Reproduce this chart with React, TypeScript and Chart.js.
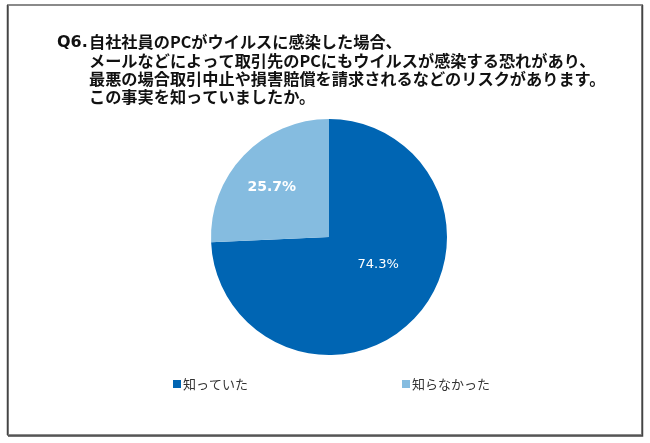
import React, { useEffect, useRef } from "react";
import { Chart, registerables } from "chart.js";

Chart.register(...registerables);

const categories = ["知っていた", "知らなかった"];
const values = [74.3, 25.7];
const colors = ["#0065B3", "#85BCE0"];
const titlePrefix = "Q6.";
const titleLines = [
  "自社社員のPCがウイルスに感染した場合、",
  "メールなどによって取引先のPCにもウイルスが感染する恐れがあり、",
  "最悪の場合取引中止や損害賠償を請求されるなどのリスクがあります。",
  "この事実を知っていましたか。",
];

// styling / layout constants
const W = 650;
const H = 443;
const JP_FONT = '"Noto Sans CJK JP", "Noto Sans", sans-serif';
const LABEL_FONT = '"DejaVu Sans", Verdana, sans-serif';
const labelStyle = [
  { fraction: 0.48, shift: -14, weight: "normal", size: 13 },
  { fraction: 0.64, shift: -3, weight: "bold", size: 14 },
];
const legendX = [173, 402];
const legendY = 384;

const framePlugin = {
  id: "frame",
  beforeDraw(chart: any) {
    const ctx = chart.ctx;
    ctx.save();
    ctx.fillStyle = "#ffffff";
    ctx.fillRect(0, 0, W, H);
    ctx.strokeStyle = "#8a8a8a";
    ctx.lineWidth = 2;
    ctx.strokeRect(8, 5, 634, 430);
    ctx.strokeStyle = "#444444";
    ctx.lineWidth = 1.5;
    ctx.beginPath();
    ctx.moveTo(7.5, 5);
    ctx.lineTo(7.5, 435);
    ctx.moveTo(642.5, 5);
    ctx.lineTo(642.5, 436);
    ctx.lineTo(8, 436);
    ctx.stroke();
    ctx.restore();
  },
};

const titlePlugin = {
  id: "customTitle",
  afterDraw(chart: any) {
    const ctx = chart.ctx;
    ctx.save();
    ctx.fillStyle = "#111111";
    ctx.textBaseline = "middle";
    ctx.textAlign = "left";
    const ys = [42, 61, 79, 97];
    ctx.font = `bold 16px ${LABEL_FONT}`;
    ctx.fillText(titlePrefix, 57, ys[0] + 1);
    ctx.font = `bold 16.2px ${JP_FONT}`;
    titleLines.forEach((line, i) => {
      ctx.fillText(line, 89, ys[i]);
    });
    ctx.restore();
  },
};

const valueLabelPlugin = {
  id: "valueLabels",
  afterDatasetsDraw(chart: any) {
    const ctx = chart.ctx;
    const meta = chart.getDatasetMeta(0);
    ctx.save();
    ctx.fillStyle = "#ffffff";
    ctx.textAlign = "center";
    ctx.textBaseline = "middle";
    meta.data.forEach((arc: any, i: number) => {
      const p = arc.getProps(["x", "y", "startAngle", "endAngle", "outerRadius"], true);
      const st = labelStyle[i];
      const mid = (p.startAngle + p.endAngle) / 2 + (st.shift * Math.PI) / 180;
      const r = p.outerRadius * st.fraction;
      ctx.font = `${st.weight} ${st.size}px ${LABEL_FONT}`;
      ctx.fillText(
        chart.data.datasets[0].data[i].toFixed(1) + "%",
        p.x + Math.cos(mid) * r,
        p.y + Math.sin(mid) * r
      );
    });
    ctx.restore();
  },
};

const legendPlugin = {
  id: "customLegend",
  afterDraw(chart: any) {
    const ctx = chart.ctx;
    ctx.save();
    ctx.textBaseline = "middle";
    ctx.textAlign = "left";
    ctx.font = `13px ${JP_FONT}`;
    chart.data.labels.forEach((label: string, i: number) => {
      const x = legendX[i];
      ctx.fillStyle = chart.data.datasets[0].backgroundColor[i];
      ctx.fillRect(x, legendY - 4, 8, 8);
      ctx.fillStyle = "#333333";
      ctx.fillText(label, x + 10, legendY);
    });
    ctx.restore();
  },
};

export default function App() {
  const ref = useRef<HTMLCanvasElement | null>(null);
  useEffect(() => {
    if (!ref.current) return;
    const chart = new Chart(ref.current, {
      type: "pie",
      data: {
        labels: categories,
        datasets: [
          {
            data: values,
            backgroundColor: colors,
            borderWidth: 0,
            hoverOffset: 0,
          },
        ],
      },
      options: {
        responsive: false,
        animation: false,
        layout: { padding: { top: 119, bottom: 88, left: 211, right: 203 } },
        plugins: {
          legend: { display: false },
          title: { display: false },
          tooltip: { enabled: false },
        },
      },
      plugins: [framePlugin, titlePlugin, valueLabelPlugin, legendPlugin],
    });
    return () => chart.destroy();
  }, []);
  return (
    <div style={{ position: "absolute", left: 0, top: 0, width: W, height: H }}>
      <canvas ref={ref} width={W} height={H} style={{ display: "block" }} />
    </div>
  );
}
